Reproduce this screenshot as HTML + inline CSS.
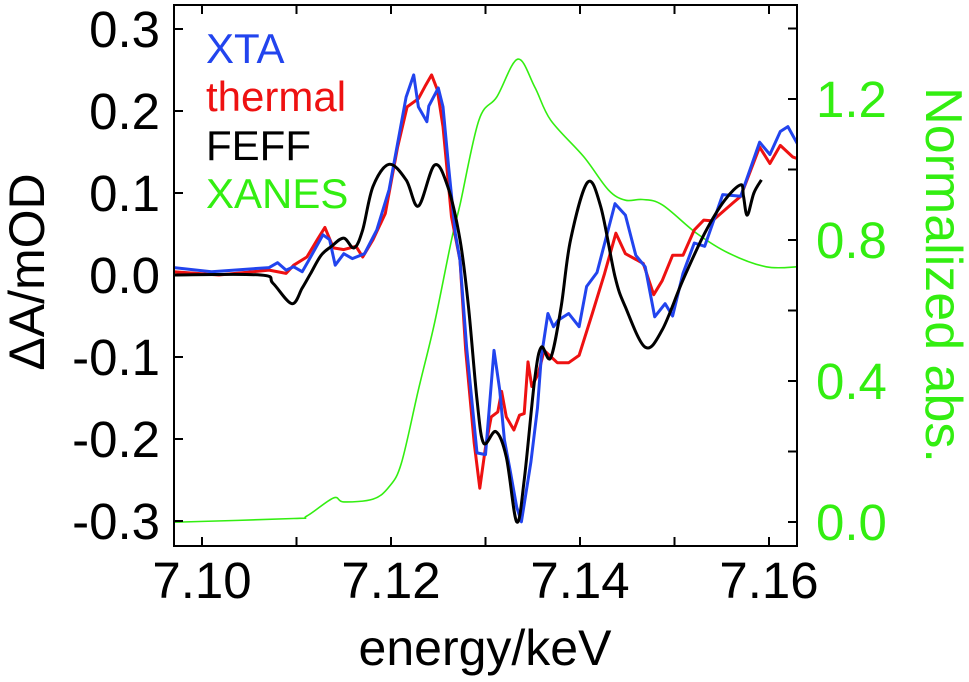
<!DOCTYPE html>
<html><head><meta charset="utf-8"><style>
body{margin:0;background:#fff;}
svg{display:block;font-family:"Liberation Sans",sans-serif;}
</style></head><body>
<svg id="chart" width="969" height="682"></svg>
<script>
const xTicks=[7.10,7.11,7.12,7.13,7.14,7.15,7.16];
const xTickLabels=["7.10","7.12","7.14","7.16"];
const yTicks=[0.3,0.2,0.1,0.0,-0.1,-0.2,-0.3];
const yTickLabels=["0.3","0.2","0.1","0.0","-0.1","-0.2","-0.3"];
const y2Ticks=[0,0.2,0.4,0.6,0.8,1.0,1.2,1.4];
const y2TickLabels=["0.0","0.4","0.8","1.2"];
const xanesE=[7.0970,7.0979,7.1097,7.1111,7.1139,7.1150,7.1181,7.1198,7.1211,7.1229,7.1246,7.1264,7.1273,7.1293,7.1312,7.1334,7.1352,7.1369,7.1404,7.1430,7.1448,7.1466,7.1487,7.1523,7.1557,7.1597,7.1630];
const xanesV=[0,0,0.01,0.017,0.068,0.057,0.065,0.1,0.167,0.375,0.564,0.8,0.9,1.14,1.206,1.313,1.235,1.14,1.036,0.942,0.913,0.915,0.9,0.82,0.763,0.724,0.724];
const feffE=[7.0970,7.1062,7.1075,7.1095,7.1106,7.1115,7.1126,7.1137,7.1150,7.1161,7.1170,7.1181,7.1198,7.1216,7.1229,7.1246,7.1260,7.1273,7.1282,7.1291,7.1298,7.1311,7.1322,7.1333,7.1341,7.1352,7.1359,7.1369,7.1380,7.1390,7.1408,7.1422,7.1437,7.1448,7.1469,7.1487,7.1509,7.1532,7.1553,7.1570,7.1573,7.1577,7.1584,7.1592];
const feffV=[0,0,-0.01,-0.035,-0.016,0.002,0.024,0.035,0.045,0.033,0.055,0.108,0.135,0.116,0.084,0.134,0.108,0.043,-0.039,-0.152,-0.205,-0.191,-0.222,-0.301,-0.25,-0.128,-0.088,-0.101,-0.039,0.043,0.113,0.083,-0.002,-0.039,-0.088,-0.067,-0.006,0.051,0.091,0.11,0.096,0.073,0.1,0.116];
const xtaE=[7.0970,7.1010,7.1071,7.1080,7.1089,7.1097,7.1106,7.1113,7.1128,7.1135,7.1141,7.1150,7.1159,7.1172,7.1185,7.1198,7.1209,7.1216,7.1224,7.1229,7.1238,7.1240,7.1250,7.1255,7.1261,7.1268,7.1273,7.1280,7.1291,7.1300,7.1309,7.1315,7.1320,7.1326,7.1333,7.1338,7.1348,7.1355,7.1359,7.1366,7.1372,7.1377,7.1388,7.1399,7.1407,7.1418,7.1437,7.1448,7.1459,7.1469,7.1479,7.1490,7.1498,7.1509,7.1521,7.1532,7.1551,7.1570,7.1590,7.1601,7.1612,7.1620,7.1630];
const xtaV=[0.009,0.004,0.009,0.015,0.006,0.010,0.004,0.018,0.049,0.043,0.012,0.026,0.020,0.026,0.055,0.104,0.173,0.217,0.244,0.205,0.187,0.206,0.228,0.205,0.132,0.051,0.018,-0.088,-0.217,-0.219,-0.092,-0.14,-0.201,-0.238,-0.283,-0.301,-0.228,-0.162,-0.1,-0.047,-0.063,-0.055,-0.047,-0.063,-0.014,0.003,0.087,0.073,0.024,0.010,-0.051,-0.035,-0.05,0.002,0.039,0.035,0.098,0.096,0.162,0.147,0.175,0.181,0.16];
const thermE=[7.0970,7.1018,7.1071,7.1089,7.1097,7.1111,7.1122,7.1130,7.1139,7.1150,7.1163,7.1170,7.1181,7.1194,7.1207,7.1217,7.1229,7.1236,7.1243,7.1249,7.1255,7.1264,7.1273,7.1279,7.1288,7.1294,7.1300,7.1306,7.1313,7.1317,7.1322,7.1330,7.1336,7.1341,7.1345,7.1349,7.1356,7.1362,7.1376,7.1388,7.1399,7.1413,7.1426,7.1438,7.1448,7.1467,7.1478,7.1487,7.1498,7.1509,7.1521,7.1531,7.1540,7.1562,7.1570,7.1590,7.1601,7.1612,7.1625,7.1630];
const thermV=[0.004,0.0,0.006,0.002,0.012,0.022,0.043,0.058,0.033,0.031,0.035,0.022,0.043,0.075,0.156,0.205,0.215,0.23,0.244,0.226,0.181,0.071,0.018,-0.092,-0.205,-0.26,-0.21,-0.173,-0.167,-0.142,-0.173,-0.189,-0.171,-0.169,-0.106,-0.136,-0.12,-0.092,-0.107,-0.107,-0.098,-0.047,0.002,0.051,0.026,0.014,-0.024,-0.007,0.024,0.024,0.055,0.067,0.066,0.088,0.096,0.156,0.136,0.158,0.144,0.142];

const L=174,R=797,T=5,B=546;
const xs=e=>202+(e-7.10)*9450;
const ys=v=>275-v*820;
const y2s=v=>522-v*352.5;
const NS="http://www.w3.org/2000/svg";
const svg=document.getElementById('chart');
function mk(tag,at,parent){const el=document.createElementNS(NS,tag);for(const k in at)el.setAttribute(k,at[k]);(parent||svg).appendChild(el);return el;}

const defs=mk('defs',{});
const cp=mk('clipPath',{id:'clip'},defs);
mk('rect',{x:L,y:T,width:R-L,height:B-T},cp);

function pathD(P,smooth){
  if(!smooth) return P.map((p,i)=>(i?'L':'M')+p[0].toFixed(1)+','+p[1].toFixed(1)).join('');
  let d='M'+P[0][0].toFixed(1)+','+P[0][1].toFixed(1);
  for(let i=0;i<P.length-1;i++){
    const p0=P[i-1]||P[i],p1=P[i],p2=P[i+1],p3=P[i+2]||p2;
    const c1=[p1[0]+(p2[0]-p0[0])/6,p1[1]+(p2[1]-p0[1])/6];
    const c2=[p2[0]-(p3[0]-p1[0])/6,p2[1]-(p3[1]-p1[1])/6];
    d+='C'+c1[0].toFixed(1)+','+c1[1].toFixed(1)+' '+c2[0].toFixed(1)+','+c2[1].toFixed(1)+' '+p2[0].toFixed(1)+','+p2[1].toFixed(1);
  }
  return d;
}
function series(E,V,scale,color,w,name,smooth){
  const P=E.map((e,i)=>[xs(e),scale(V[i])]);
  const p=mk('path',{d:pathD(P,smooth),fill:'none',stroke:color,'stroke-width':w,'stroke-linejoin':'round','clip-path':'url(#clip)'});
  
  
}
series(xanesE,xanesV,y2s,'#33ee11',1.6,'xanes-line',true);
series(thermE,thermV,ys,'#ee1111',3,'thermal-line',false);
series(xtaE,xtaV,ys,'#2244ee',3,'xta-line',false);
series(feffE,feffV,ys,'#000000',3,'feff-line',true);

const fr=mk('rect',{x:L,y:T,width:R-L,height:B-T,fill:'none',stroke:'#000','stroke-width':2});



xTicks.forEach(t=>{const x=xs(t);
  const a=mk('line',{x1:x,x2:x,y1:B,y2:B-9,stroke:'#000','stroke-width':2});
  
  
  const b=mk('line',{x1:x,x2:x,y1:T,y2:T+9,stroke:'#000','stroke-width':2});
  
  
});
xTickLabels.forEach(s=>{const t=mk('text',{x:xs(parseFloat(s)),y:598,'font-size':51,'text-anchor':'middle',fill:'#000'});t.textContent=s;
  
  });
yTicks.forEach(v=>{const y=ys(v);
  const a=mk('line',{x1:L,x2:L+9,y1:y,y2:y,stroke:'#000','stroke-width':2});
  
  });
yTickLabels.forEach(s=>{const t=mk('text',{x:160,y:ys(parseFloat(s))+18,'font-size':51,'text-anchor':'end',fill:'#000'});t.textContent=s;
  
  });
y2Ticks.forEach(v=>{const y=y2s(v);
  const a=mk('line',{x1:R,x2:R-9,y1:y,y2:y,stroke:'#000','stroke-width':2});
  
  });
y2TickLabels.forEach(s=>{const t=mk('text',{x:816,y:y2s(parseFloat(s))+18,'font-size':51,'text-anchor':'start',fill:'#33ee11'});t.textContent=s;
  
  });

let t=mk('text',{x:485,y:665,'font-size':50,'text-anchor':'middle',fill:'#000'});t.textContent='energy/keV';


t=mk('text',{x:0,y:0,'font-size':50,'text-anchor':'middle',fill:'#000',transform:'translate(44,272) rotate(-90)'});t.textContent='ΔA/mOD';


t=mk('text',{x:0,y:0,'font-size':52,'text-anchor':'middle',fill:'#33ee11',transform:'translate(926,275) rotate(90)'});t.textContent='Normalized abs.';



[['XTA','#2244ee',63],['thermal','#ee1111',111],['FEFF','#000',160],['XANES','#33ee11',208]].forEach(l=>{
  const e=mk('text',{x:206,y:l[2],'font-size':42,fill:l[1]});e.textContent=l[0];
  
  
});
</script>
</body></html>
